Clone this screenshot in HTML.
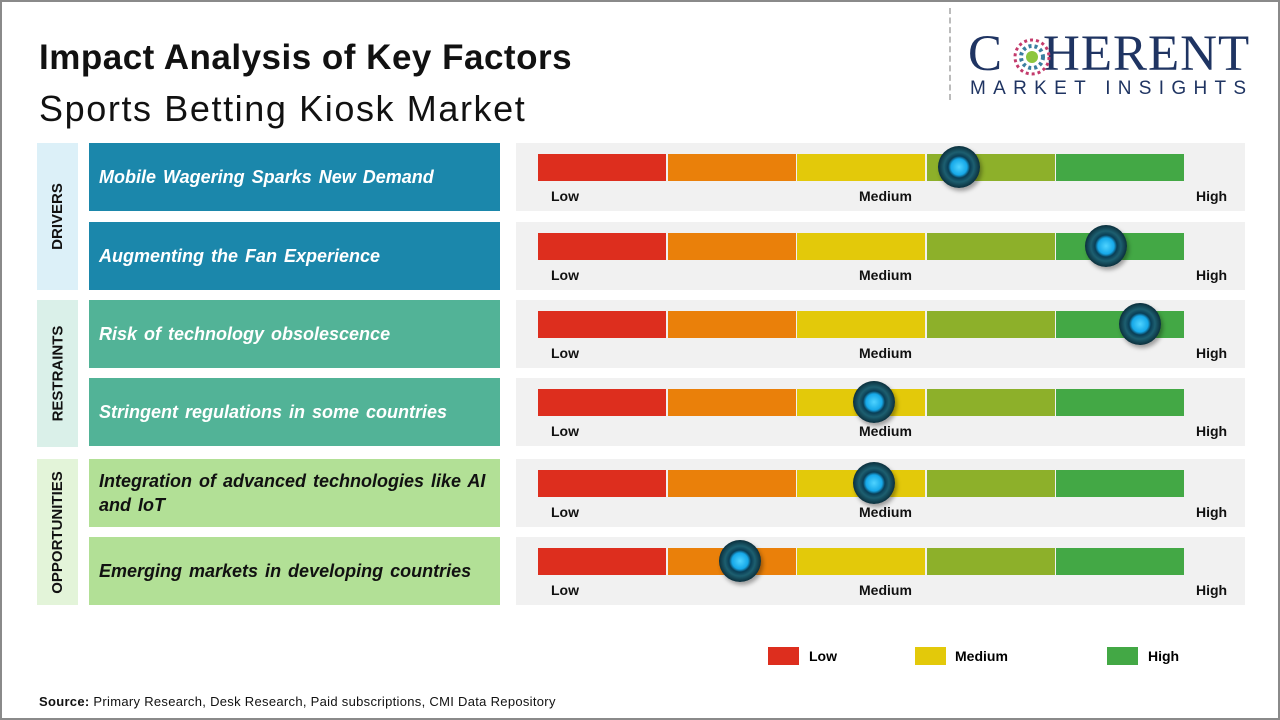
<!DOCTYPE html>
<html><head><meta charset="utf-8"><style>
*{margin:0;padding:0;box-sizing:border-box}
body{width:1280px;height:720px;background:#fff;font-family:"Liberation Sans","DejaVu Sans",sans-serif;position:relative;overflow:hidden}
.frame{position:absolute;left:0;top:0;width:1280px;height:720px;border:2px solid #8a8a8a}
.abs{position:absolute}
.t1{left:39px;top:38px;font-size:35px;font-weight:bold;color:#111;letter-spacing:0.5px}
.t2{left:39px;top:88px;font-size:36px;color:#111;letter-spacing:1.6px}
.cat{position:absolute;left:37px;width:41px;display:flex;align-items:center;justify-content:center}
.cat span{transform:rotate(-90deg);white-space:nowrap;font-size:15px;font-weight:bold;color:#111}
.lab{position:absolute;left:89px;width:411px;height:68px;display:flex;align-items:center;padding-left:10px;font-size:18px;font-weight:bold;font-style:italic;color:#fff;line-height:24px;word-spacing:2px}
.panel{position:absolute;left:516px;width:729px;height:68px;background:#f1f1f1}
.seg{position:absolute;top:11px;height:27px;width:128px}
.lo,.md,.hi{position:absolute;top:45px;font-size:14px;font-weight:bold;color:#111}
.mk{position:absolute;width:42px;height:42px;border-radius:50%;background:radial-gradient(circle at 50% 50%,#4fd3ff 0,#16a8e8 8px,#0a3e55 11px,#1d5f70 15px,#0b2f3c 21px);box-shadow:2px 3px 4px rgba(0,0,0,.35)}
</style></head><body>
<div class="frame"></div>
<div class="abs t1">Impact Analysis of Key Factors</div>
<div class="abs t2">Sports Betting Kiosk Market</div>
<div class="abs" style="left:949px;top:8px;height:92px;border-left:2px dashed #bbb"></div>
<div class="abs" style="left:968px;top:28px;font-family:'Liberation Serif',serif;font-size:51px;color:#1f3462;line-height:52px;letter-spacing:1px">C<span style="display:inline-block;width:40px"></span>HERENT</div>
<svg class="abs" style="left:1011px;top:38px" width="42" height="38"><g>
<circle cx="21" cy="19" r="17" fill="none" stroke="#c33b6c" stroke-width="3" stroke-dasharray="3 3"/>
<circle cx="21" cy="19" r="11" fill="none" stroke="#3b7fa0" stroke-width="4" stroke-dasharray="3 3"/>
<circle cx="21" cy="19" r="6" fill="#8cc63f"/></g></svg>
<div class="abs" style="left:970px;top:78px;font-size:19px;letter-spacing:7.3px;color:#1f3462">MARKET INSIGHTS</div>

<div class="cat" style="top:143px;height:147px;background:#dcf0f8"><span>DRIVERS</span></div>
<div class="cat" style="top:300px;height:147px;background:#daf0e9"><span>RESTRAINTS</span></div>
<div class="cat" style="top:459px;height:146px;background:#e3f4d9"><span>OPPORTUNITIES</span></div>

<div class="lab" style="top:143px;background:#1b87ab">Mobile Wagering Sparks New Demand</div>
<div class="lab" style="top:222px;background:#1b87ab">Augmenting the Fan Experience</div>
<div class="lab" style="top:300px;background:#52b397">Risk of technology obsolescence</div>
<div class="lab" style="top:378px;background:#52b397">Stringent regulations in some countries</div>
<div class="lab" style="top:459px;background:#b2e096;color:#111">Integration of advanced technologies like AI and IoT</div>
<div class="lab" style="top:537px;background:#b2e096;color:#111">Emerging markets in developing countries</div>

<div id="panels"></div>
<script>
var tops=[143,222,300,378,459,537],mk=[959,1106,1140,874,874,740];
var cols=["#dd2e1e","#ea800a","#e3c90a","#8db02a","#43a845"];
var h="";
tops.forEach(function(t,i){
 h+='<div class="panel" style="top:'+t+'px">';
 for(var j=0;j<5;j++)h+='<div class="seg" style="left:'+(22+j*129.6)+'px;background:'+cols[j]+'"></div>';
 h+='<div class="lo" style="left:35px">Low</div><div class="md" style="left:343px">Medium</div><div class="hi" style="left:680px">High</div></div>';
 h+='<div class="mk" style="left:'+(mk[i]-21)+'px;top:'+(t+3)+'px"></div>';
});
document.getElementById('panels').innerHTML=h;
</script>

<div class="abs" style="left:768px;top:647px;width:31px;height:18px;background:#dd2e1e"></div>
<div class="abs" style="left:809px;top:648px;font-size:14px;font-weight:bold">Low</div>
<div class="abs" style="left:915px;top:647px;width:31px;height:18px;background:#e3c90a"></div>
<div class="abs" style="left:955px;top:648px;font-size:14px;font-weight:bold">Medium</div>
<div class="abs" style="left:1107px;top:647px;width:31px;height:18px;background:#43a845"></div>
<div class="abs" style="left:1148px;top:648px;font-size:14px;font-weight:bold">High</div>

<div class="abs" style="left:39px;top:694px;font-size:13px;color:#111;letter-spacing:0.3px"><b>Source:</b> Primary Research, Desk Research, Paid subscriptions, CMI Data Repository</div>
</body></html>
